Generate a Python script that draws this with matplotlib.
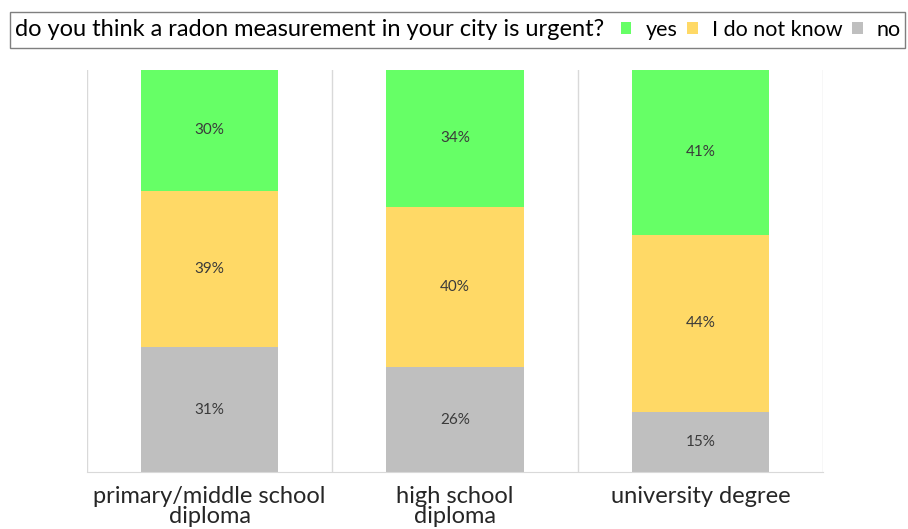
import matplotlib.pyplot as plt
import numpy as np
from matplotlib.patches import Patch, Rectangle

plt.rcParams['font.family'] = ['Lato', 'DejaVu Sans']

categories = ['primary/middle school\ndiploma', 'high school\ndiploma', 'university degree']
answers = ['yes', 'I do not know', 'no']
yes = [30, 34, 41]
dont_know = [39, 40, 44]
no = [31, 26, 15]
question = 'do you think a radon measurement in your city is urgent?'

colors = {'yes': '#66FF66', 'I do not know': '#FFD966', 'no': '#BFBFBF'}
grid_color = '#D9D9D9'

fig = plt.figure(figsize=(9.08, 5.29), dpi=100)
ax = fig.add_axes([87 / 908, 57 / 529, 736 / 908, 402 / 529])

x = np.arange(len(categories))
width = 0.56
# stack from the bottom: no, then don't know, then yes
stacks = [('no', no), ('I do not know', dont_know), ('yes', yes)]
bottom = np.zeros(len(categories))
for name, vals in stacks:
    vals = np.array(vals, dtype=float)
    ax.bar(x, vals, width, bottom=bottom, color=colors[name], edgecolor='none', zorder=2)
    for xi, b, v in zip(x, bottom, vals):
        ax.text(xi, b + v / 2, f'{v:.0f}%', ha='center', va='center',
                fontsize=11, color='#3A3A3A', zorder=3)
    bottom += vals

ax.set_xlim(-0.5, len(categories) - 0.5)
ax.set_ylim(0, 100)
ax.set_xticks(x)
ax.set_xticklabels(categories, fontsize=17, color='#262626', linespacing=0.92)
ax.tick_params(axis='x', length=0, pad=10)
ax.set_yticks([])

# category separators
ax.set_xticks(np.arange(-0.5, len(categories)), minor=True)
ax.tick_params(axis='x', which='minor', length=0)
ax.grid(axis='x', which='minor', color=grid_color, linewidth=1, zorder=0)
for side in ['left', 'right', 'top']:
    ax.spines[side].set_visible(False)
ax.spines['bottom'].set_color(grid_color)

# legend bar across the top
fig.patches.append(Rectangle((10 / 908, 1 - 48 / 529), 895 / 908, 36 / 529,
                             transform=fig.transFigure, facecolor='white',
                             edgecolor='#7F7F7F', linewidth=1))
fig.text(15 / 908, 1 - 30 / 529, question, fontsize=17, color='#000000',
         ha='left', va='center')
handles = [Patch(facecolor=colors[a], edgecolor='none') for a in answers]
fig.legend(handles, answers, loc='center right', bbox_to_anchor=(901 / 908, 1 - 30 / 529),
           ncol=3, frameon=False, fontsize=15.5, handlelength=0.5, handleheight=0.5,
           handletextpad=0.65, columnspacing=0.45, borderpad=0, borderaxespad=0)

fig.savefig('out.png', dpi=100)
